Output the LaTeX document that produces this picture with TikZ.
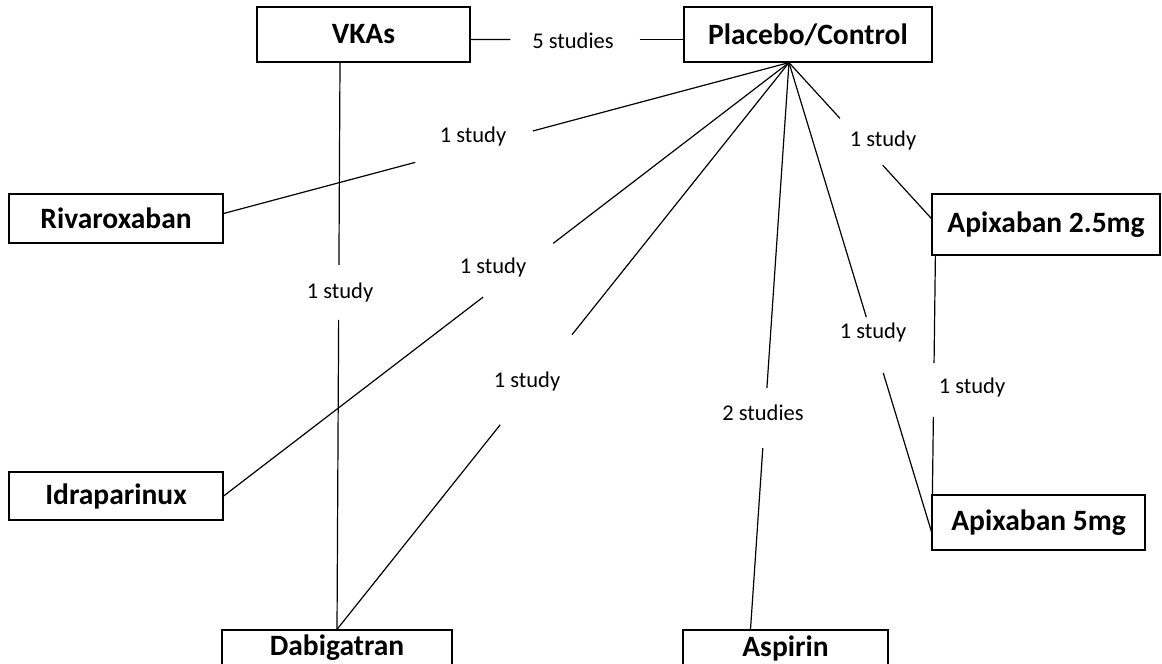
\documentclass[tikz,border=0pt]{standalone}
\usepackage{fontspec}
\setmainfont{Carlito}
\usetikzlibrary{positioning, calc}

\begin{document}
\begin{tikzpicture}[x=1pt, y=-1pt, line width=1.2pt,
    drug/.style={draw, rectangle, align=center, inner sep=0pt, font=\fontsize{29.5}{34}\selectfont\bfseries},
    lbl/.style={font=\fontsize{22.5}{26}\selectfont, inner sep=0pt}]
    \useasboundingbox (0,0) rectangle (1162,664);
    \clip (0,0) rectangle (1162,664);

    % Nodes for the treatment network
    \node[drug, minimum width=213pt, minimum height=55pt] (VKA) at (363.5,34.5) {VKAs};
    \node[drug, minimum width=248pt, minimum height=55pt] (PLC) at (808,34.5) {Placebo/Control};
    \node[drug, minimum width=214pt, minimum height=49pt] (RIV) at (116,218.5) {Rivaroxaban};
    \node[drug, minimum width=214pt, minimum height=48pt] (IDR) at (116,496) {Idraparinux};
    \node[drug, minimum width=230pt, minimum height=36pt] (DAB) at (337,648) {Dabigatran};
    \node[drug, minimum width=205pt, minimum height=36pt] (ASP) at (785.5,648) {Aspirin};
    \node[drug, minimum width=228pt, minimum height=61pt] (A25) at (1046,224.5) {Apixaban 2.5mg};
    \node[drug, minimum width=213pt, minimum height=55pt] (A5) at (1038.5,522.5) {Apixaban 5mg};
    \coordinate (hub) at ([xshift=-19pt]PLC.south);
    \coordinate (vkaDown) at ([xshift=-23.5pt]VKA.south);

    % Lines for comparisons (split round the labels)
    \draw ([yshift=-5pt]VKA.east) -- ($([yshift=-5pt]VKA.east)!0.187!([yshift=-5pt]PLC.west)$);
    \draw ($([yshift=-5pt]VKA.east)!0.794!([yshift=-5pt]PLC.west)$) -- ([yshift=-5pt]PLC.west);
    \node[lbl] (l5) at (573,41) {5 studies};

    \draw (hub) -- ($(hub)!0.453!([yshift=5pt]RIV.east)$);
    \draw ($(hub)!0.661!([yshift=5pt]RIV.east)$) -- ([yshift=5pt]RIV.east);
    \node[lbl] (lRiv) at (473,136) {1 study};

    \draw (hub) -- ($(hub)!0.417!(IDR.east)$);
    \draw ($(hub)!0.541!(IDR.east)$) -- (IDR.east);
    \node[lbl] (lIdr) at (493,267) {1 study};

    \draw (vkaDown) -- ($(vkaDown)!0.357!(DAB.north)$);
    \draw ($(vkaDown)!0.454!(DAB.north)$) -- (DAB.north);
    \node[lbl] (lVka) at (340,292) {1 study};

    \draw (hub) -- ($(hub)!0.48!(DAB.north)$);
    \draw ($(hub)!0.639!(DAB.north)$) -- (DAB.north);
    \node[lbl] (lDab) at (527,381) {1 study};

    \draw (hub) -- ($(hub)!0.574!([xshift=-35pt]ASP.north)$);
    \draw ($(hub)!0.68!([xshift=-35pt]ASP.north)$) -- ([xshift=-35pt]ASP.north);
    \node[lbl] (lAsp) at (763,413) {2 studies};

    \draw (hub) -- ($(hub)!0.543!([yshift=-9pt]A5.west)$);
    \draw ($(hub)!0.662!([yshift=-9pt]A5.west)$) -- ([yshift=-9pt]A5.west);
    \node[lbl] (lA5) at (873,332) {1 study};

    \draw (hub) -- ($(hub)!0.358!([yshift=6pt]A25.west)$);
    \draw ($(hub)!0.658!([yshift=6pt]A25.west)$) -- ([yshift=6pt]A25.west);
    \node[lbl] (lA25) at (883,140) {1 study};

    \draw ([xshift=4pt]A25.south west) -- ($([xshift=4pt]A25.south west)!0.45!([xshift=1pt]A5.north west)$);
    \draw ($([xshift=4pt]A25.south west)!0.675!([xshift=1pt]A5.north west)$) -- ([xshift=1pt]A5.north west);
    \node[lbl] (lApx) at (972,387) {1 study};
\end{tikzpicture}
\end{document}
